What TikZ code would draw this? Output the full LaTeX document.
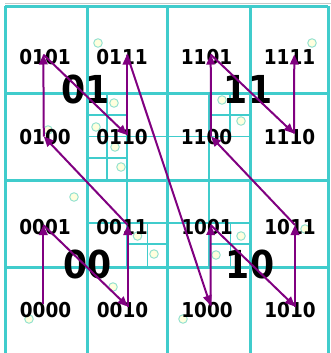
\documentclass[tikz,border=0pt]{standalone}
\usepackage{fontspec}
\newfontfamily\labfont[FakeStretch=0.9]{DejaVu Sans}
\usetikzlibrary{arrows.meta}
\definecolor{gridc}{RGB}{64,204,204}
\definecolor{zpurple}{RGB}{128,0,128}
\definecolor{ptfill}{RGB}{255,255,222}
\definecolor{ptline}{RGB}{150,226,208}
\begin{document}
\begin{tikzpicture}[x=1pt,y=-1pt,
  major/.style={draw=gridc,line width=3pt},
  minor/.style={draw=gridc,line width=1.9pt},
  pt/.style={circle,draw=ptline,fill=ptfill,line width=1pt,inner sep=0pt,minimum size=8.5pt},
  lab/.style={font=\labfont\bfseries\fontsize{20.5}{22}\selectfont,text=black,inner sep=0pt},
  big/.style={font=\labfont\bfseries\fontsize{38.5}{40}\selectfont,text=black,inner sep=0pt},
  zarrow/.style={draw=zpurple,line width=2pt,-{Triangle[length=10pt,width=8.5pt]}}]
\useasboundingbox (0,0) rectangle (331,353);
% faint top shadow line
\draw[black!22,line width=1.2pt] (5,3.3) -- (331,3.3);
% finer subdivisions
% cell 0110
\draw[minor] (127,93) -- (127,180) (87,136.5) -- (167.5,136.5)
  (107,93) -- (107,180) (87,115) -- (127,115) (87,158) -- (127,158);
% cell 1100
\draw[minor] (209,93) -- (209,180) (167.5,136.5) -- (250.5,136.5)
  (230,93) -- (230,136.5) (209,115) -- (250.5,115);
% cell 0011
\draw[minor] (127,180) -- (127,267) (87,223) -- (167.5,223)
  (147.5,223) -- (147.5,267) (127,244) -- (167.5,244);
% cell 1001
\draw[minor] (209,180) -- (209,267) (167.5,223) -- (250.5,223)
  (230.5,223) -- (230.5,267) (209,244) -- (250.5,244);
% main grid
\foreach \x in {5,87,167.5,250.5,328} \draw[major] (\x,6.5) -- (\x,356);
\foreach \y in {6.5,93,180,267,355} \draw[major] (5,\y) -- (328,\y);
% data points
\foreach[count=\i] \p in {(98,43),(114,103),(96,127),(115,147),(121,167),(48,130),
  (312,43),(222,100),(241,121),
  (74,197),(137.5,236),(154,254),(113,287),(29,319),
  (241,236),(216,255),(305,229),(183,319)}
  \node[pt] (d\i) at \p {};
% quadrant labels
\node[big] (q01) at (85.5,89) {01};
\node[big] (q11) at (248,89.5) {11};
\node[big] (q00) at (87.5,264) {00};
\node[big] (q10) at (250,264) {10};
% cell labels
\node[lab] (l0101) at (45,57.5) {0101};
\node[lab] (l0111) at (122,57.5) {0111};
\node[lab] (l1101) at (206.5,57.5) {1101};
\node[lab] (l1111) at (289.5,57.5) {1111};
\node[lab] (l0100) at (45,137.5) {0100};
\node[lab] (l0110) at (122,137.5) {0110};
\node[lab] (l1100) at (206.5,137.5) {1100};
\node[lab] (l1110) at (289.5,137.5) {1110};
\node[lab] (l0001) at (45,227.5) {0001};
\node[lab] (l0011) at (122,227.5) {0011};
\node[lab] (l1001) at (207,227.5) {1001};
\node[lab] (l1011) at (290,227.5) {1011};
\node[lab] (l0000) at (45.5,310.5) {0000};
\node[lab] (l0010) at (122.5,310.5) {0010};
\node[lab] (l1000) at (207,310.5) {1000};
\node[lab] (l1010) at (290,310.5) {1010};
% Z-order path points
\coordinate (p0000) at (43.3,304);
\coordinate (p0001) at (43.3,225);
\coordinate (p0010) at (127.7,306.5);
\coordinate (p0011) at (127.7,225);
\coordinate (p0100) at (43.8,136.5);
\coordinate (p0101) at (43.3,54.5);
\coordinate (p0110) at (127,135);
\coordinate (p0111) at (127,54.5);
\coordinate (p1000) at (210.5,305.5);
\coordinate (p1001) at (210.7,225);
\coordinate (p1010) at (295,306.5);
\coordinate (p1011) at (295,225);
\coordinate (p1100) at (211,136.5);
\coordinate (p1101) at (210.7,54.5);
\coordinate (p1110) at (294,133.5);
\coordinate (p1111) at (294.3,54.5);
\draw[zarrow] (p0000) -- (p0001);
\draw[zarrow] (p0001) -- (p0010);
\draw[zarrow] (p0010) -- (p0011);
\draw[zarrow] (p0011) -- (p0100);
\draw[zarrow] (p0100) -- (p0101);
\draw[zarrow] (p0101) -- (p0110);
\draw[zarrow] (p0110) -- (p0111);
\draw[zarrow] (p0111) -- (p1000);
\draw[zarrow] (p1000) -- (p1001);
\draw[zarrow] (p1001) -- (p1010);
\draw[zarrow] (p1010) -- (p1011);
\draw[zarrow] (p1011) -- (p1100);
\draw[zarrow] (p1100) -- (p1101);
\draw[zarrow] (p1101) -- (p1110);
\draw[zarrow] (p1110) -- (p1111);
\end{tikzpicture}
\end{document}
